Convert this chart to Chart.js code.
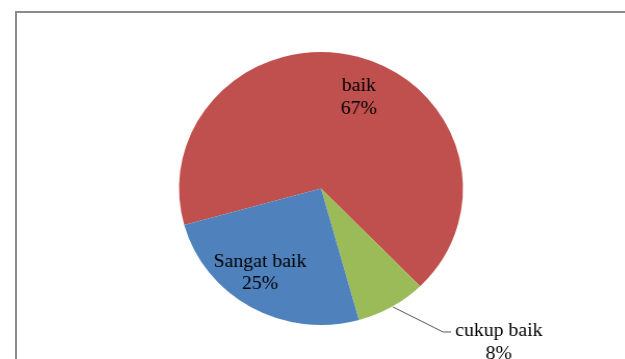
<!DOCTYPE html>
<html>
<head>
<meta charset="utf-8">
<script src="https://cdn.jsdelivr.net/npm/chart.js@4"></script>
<style>
  html, body { margin: 0; padding: 0; background: #fff; overflow: hidden; width: 625px; height: 359px; }
  .frame { position: absolute; left: 15px; top: 11px; width: 700px; height: 400px;
           border-left: 2px solid #8a8a8a; border-top: 2px solid #8a8a8a; }
  #pie { position: absolute; left: 0; top: 0; width: 625px; height: 359px;
         transform: scaleX(1.04); transform-origin: 321px 0; }
</style>
</head>
<body>
<div class="frame"></div>
<canvas id="pie" width="625" height="359"></canvas>
<script>
const kategori = ["baik", "cukup baik", "Sangat baik"];
const nilai = [67, 8, 25];
const warna = ["#C0504D", "#9BBB59", "#4F81BD"];

// posisi label, dalam satuan jari-jari pie
const posisiLabel = [
  { dx: 0.267, dy: -0.714 },
  { dx: 1.253, dy: 1.081, garis: [[0.507, 0.868], [0.859, 1.051], [0.916, 1.051]] },
  { dx: -0.43, dy: 0.575 }
];

const labelPlugin = {
  id: "labelPie",
  afterDatasetsDraw(chart) {
    const ctx = chart.ctx;
    const meta = chart.getDatasetMeta(0);
    const total = nilai.reduce((a, b) => a + b, 0);
    ctx.save();
    ctx.font = "19px \"Liberation Serif\", \"Times New Roman\", serif";
    ctx.fillStyle = "#000";
    ctx.textAlign = "center";
    ctx.textBaseline = "alphabetic";
    meta.data.forEach((arc, i) => {
      const r = arc.outerRadius;
      const p = posisiLabel[i];
      if (p.garis) {
        ctx.beginPath();
        ctx.strokeStyle = "#555";
        ctx.lineWidth = 1;
        p.garis.forEach((g, j) => {
          const x = arc.x + g[0] * r, y = arc.y + g[1] * r;
          if (j === 0) ctx.moveTo(x, y); else ctx.lineTo(x, y);
        });
        ctx.stroke();
      }
      const x = arc.x + p.dx * r;
      const y = arc.y + p.dy * r;
      const pct = Math.round(nilai[i] / total * 100) + "%";
      ctx.fillText(kategori[i], x, y);
      ctx.fillText(pct, x, y + 22.5);
    });
    ctx.restore();
  }
};

new Chart(document.querySelector("#pie"), {
  type: "pie",
  data: {
    labels: kategori,
    datasets: [{
      data: nilai,
      backgroundColor: warna,
      borderWidth: 0
    }]
  },
  options: {
    responsive: false,
    devicePixelRatio: 1,
    animation: false,
    rotation: 254.5,
    layout: { padding: { top: 52, bottom: 34, left: 184.5, right: 167.5 } },
    plugins: {
      legend: { display: false },
      tooltip: { enabled: false }
    }
  },
  plugins: [labelPlugin]
});
</script>
</body>
</html>
